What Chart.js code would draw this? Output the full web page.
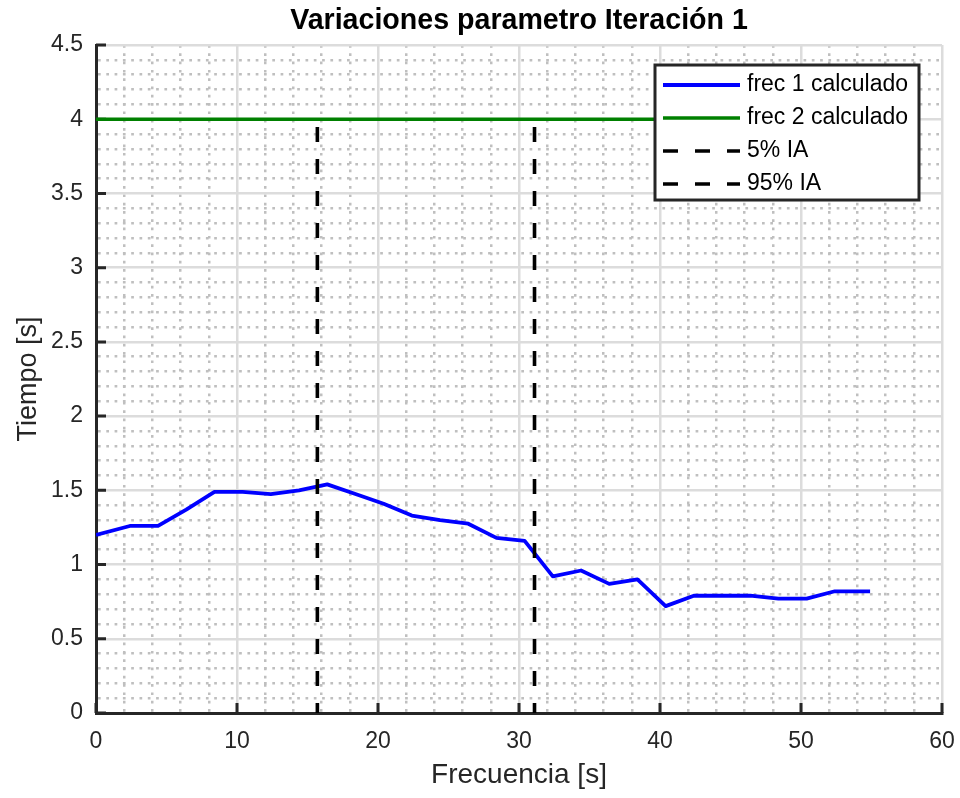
<!DOCTYPE html>
<html>
<head>
<meta charset="utf-8">
<script src="https://cdn.jsdelivr.net/npm/chart.js@4.4.1/dist/chart.umd.min.js"></script>
<style>
  html, body { margin: 0; padding: 0; background: #ffffff; }
  #wrap { width: 960px; height: 798px; }
</style>
</head>
<body>
<div id="wrap"><canvas id="chart" width="960" height="798"></canvas></div>
<script>
// Frequency samples (x) and computed times (y)
const frecuencia = [0, 2.4, 4.4, 6.4, 8.4, 10.4, 12.4, 14.4, 16.4, 18.4, 20.4, 22.4, 24.4, 26.4,
  28.4, 30.4, 32.4, 34.4, 36.4, 38.4, 40.4, 42.4, 44.4, 46.4, 48.4, 50.4, 52.4, 54.9];
const frec1Calculado = [1.20, 1.26, 1.26, 1.37, 1.49, 1.49, 1.475, 1.50, 1.54, 1.475, 1.41, 1.33,
  1.30, 1.275, 1.18, 1.16, 0.92, 0.96, 0.87, 0.90, 0.72, 0.79, 0.79, 0.79, 0.77, 0.77, 0.82, 0.82];
const frec2Calculado = [4, 4, 4, 4, 4, 4, 4, 4, 4, 4, 4, 4, 4, 4,
  4, 4, 4, 4, 4, 4, 4, 4, 4, 4, 4, 4, 4, 4];

// Interval limits (vertical dashed markers)
const limiteIA5 = 15.7;
const limiteIA95 = 31.1;
const alturaIA = [0, 4];

const etiquetas = ['frec 1 calculado', 'frec 2 calculado', '5% IA', '95% IA'];

// Labelled (major) ticks
const xMajorTicks = [0, 10, 20, 30, 40, 50, 60];
const yMajorTicks = [0, 0.5, 1, 1.5, 2, 2.5, 3, 3.5, 4, 4.5];

const FONT = '"Liberation Sans", Arial, Helvetica, sans-serif';
const AXIS = '#262626';
const MAJOR_GRID = '#dcdcdc';
const MINOR_GRID = '#bfbfbf';
const MINOR_DASH = [2.7, 5.6];

const isMajor = (v, list) => list.some(m => Math.abs(m - v) < 1e-9);
const pts = (xs, ys) => xs.map((x, i) => ({ x: x, y: ys[i] }));

// Short tick marks pointing into the plot area
const inwardTicks = {
  id: 'inwardTicks',
  beforeDatasetsDraw(chart) {
    const { ctx, chartArea: a, scales: { x, y } } = chart;
    ctx.save();
    ctx.strokeStyle = AXIS;
    ctx.lineWidth = 3;
    ctx.beginPath();
    xMajorTicks.forEach(v => {
      const px = x.getPixelForValue(v);
      ctx.moveTo(px, a.bottom);
      ctx.lineTo(px, a.bottom - 10);
    });
    yMajorTicks.forEach(v => {
      const py = y.getPixelForValue(v);
      ctx.moveTo(a.left, py);
      ctx.lineTo(a.left + 10, py);
    });
    ctx.stroke();
    ctx.restore();
  }
};

// Boxed legend in the upper right corner of the plot area
const legendBox = {
  id: 'legendBox',
  afterDatasetsDraw(chart) {
    const { ctx, chartArea: a } = chart;
    const w = 264, h = 135;
    const left = a.right - 23 - w;
    const top = a.top + 20;
    ctx.save();
    ctx.fillStyle = '#ffffff';
    ctx.fillRect(left, top, w, h);
    ctx.strokeStyle = AXIS;
    ctx.lineWidth = 3;
    ctx.strokeRect(left, top, w, h);
    ctx.font = '23px ' + FONT;
    ctx.textBaseline = 'middle';
    ctx.textAlign = 'left';
    chart.data.datasets.forEach((ds, i) => {
      const yy = top + 20 + i * 33;
      ctx.strokeStyle = ds.borderColor;
      ctx.lineWidth = ds.borderWidth;
      ctx.setLineDash(ds.borderDash || []);
      ctx.beginPath();
      ctx.moveTo(left + 8, yy);
      ctx.lineTo(left + 85, yy);
      ctx.stroke();
      ctx.setLineDash([]);
      ctx.fillStyle = '#000000';
      ctx.fillText(ds.label, left + 92, yy);
    });
    ctx.restore();
  }
};

new Chart(document.getElementById('chart'), {
  type: 'line',
  data: {
    datasets: [
      {
        label: etiquetas[0],
        data: pts(frecuencia, frec1Calculado),
        borderColor: '#0000ff',
        borderWidth: 3.8,
        pointRadius: 0,
        tension: 0,
        borderJoinStyle: 'round',
        order: 4
      },
      {
        label: etiquetas[1],
        data: pts(frecuencia, frec2Calculado),
        borderColor: '#008000',
        borderWidth: 3.6,
        pointRadius: 0,
        tension: 0,
        order: 3
      },
      {
        label: etiquetas[2],
        data: pts([limiteIA5, limiteIA5], alturaIA),
        borderColor: '#000000',
        borderWidth: 3.6,
        borderDash: [15, 17],
        borderDashOffset: 5,
        pointRadius: 0,
        order: 2
      },
      {
        label: etiquetas[3],
        data: pts([limiteIA95, limiteIA95], alturaIA),
        borderColor: '#000000',
        borderWidth: 3.6,
        borderDash: [15, 17],
        borderDashOffset: 5,
        pointRadius: 0,
        order: 1
      }
    ]
  },
  options: {
    responsive: false,
    animation: false,
    events: [],
    layout: { padding: { left: 0, right: 18, top: 0, bottom: 0 } },
    plugins: {
      legend: { display: false },
      tooltip: { enabled: false },
      title: {
        display: true,
        text: 'Variaciones parametro Iteración 1',
        fullSize: false,
        color: '#000000',
        font: { family: FONT, size: 28.6, weight: 'bold', lineHeight: 1.2 },
        padding: { top: 4, bottom: 6.7 }
      }
    },
    scales: {
      x: {
        type: 'linear',
        min: 0,
        max: 60,
        afterFit(scale) {
          scale.height = 85;
          scale.paddingLeft = 0;
          scale.paddingRight = 0;
        },
        ticks: {
          stepSize: 2,
          autoSkip: false,
          maxRotation: 0,
          padding: 15,
          color: AXIS,
          font: { family: FONT, size: 23 },
          callback: v => (isMajor(v, xMajorTicks) ? String(v) : '')
        },
        grid: {
          drawTicks: false,
          lineWidth: 2.5,
          color: c => (c.tick && isMajor(c.tick.value, xMajorTicks) ? MAJOR_GRID : MINOR_GRID)
        },
        border: {
          display: true,
          color: AXIS,
          width: 3,
          dash: c => (c.tick && !isMajor(c.tick.value, xMajorTicks) ? MINOR_DASH : [])
        },
        title: {
          display: true,
          text: 'Frecuencia [s]',
          color: AXIS,
          font: { family: FONT, size: 28, lineHeight: 1.2 },
          padding: { top: 0, bottom: 6.2 }
        }
      },
      y: {
        type: 'linear',
        min: 0,
        max: 4.5,
        afterFit(scale) {
          scale.width = 96;
          scale.paddingTop = 0;
          scale.paddingBottom = 0;
        },
        ticks: {
          stepSize: 0.1,
          autoSkip: false,
          padding: 13,
          color: AXIS,
          font: { family: FONT, size: 23 },
          callback: v => (isMajor(v, yMajorTicks) ? String(+Number(v).toFixed(1)) : '')
        },
        grid: {
          drawTicks: false,
          lineWidth: 2.5,
          color: c => (c.tick && isMajor(c.tick.value, yMajorTicks) ? MAJOR_GRID : MINOR_GRID)
        },
        border: {
          display: true,
          color: AXIS,
          width: 3,
          dash: c => (c.tick && !isMajor(c.tick.value, yMajorTicks) ? MINOR_DASH : [])
        },
        title: {
          display: true,
          text: 'Tiempo [s]',
          color: AXIS,
          font: { family: FONT, size: 27, lineHeight: 1.2 },
          padding: { top: 12.8, bottom: 0 }
        }
      }
    }
  },
  plugins: [inwardTicks, legendBox]
});
</script>
</body>
</html>
